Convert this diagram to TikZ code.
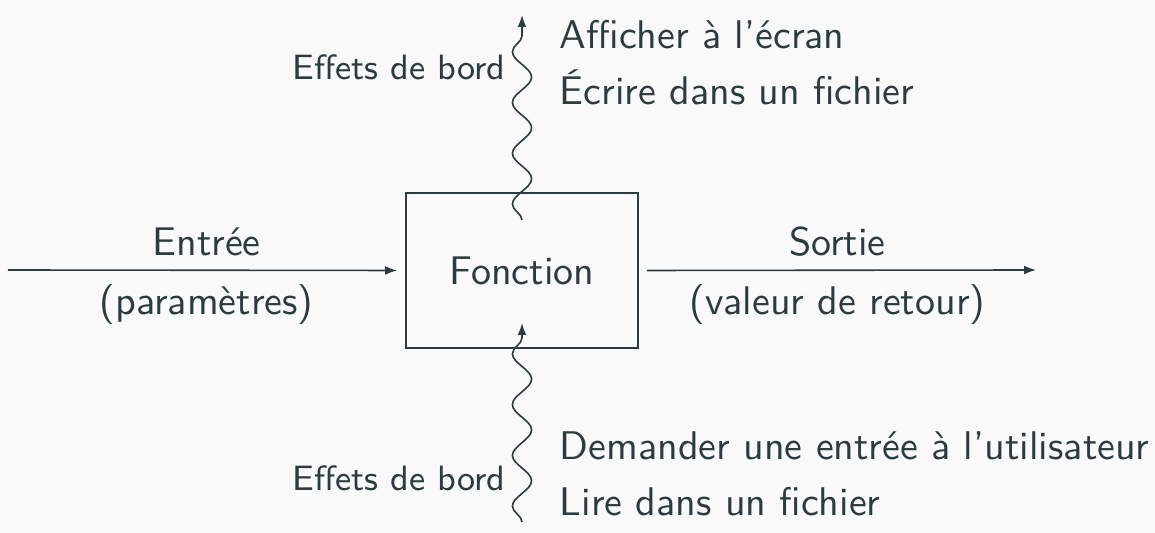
\documentclass[tikz,border=0pt]{standalone}
\usetikzlibrary{decorations.pathmorphing,arrows.meta}
\definecolor{ink}{HTML}{2A3C3F}
\definecolor{bg}{HTML}{F9F9F9}
\begin{document}
\begin{tikzpicture}[x=0.25pt,y=-0.25pt,
  every node/.style={font=\sffamily, text=ink},
  fbox/.style={draw=ink, line width=0.4pt, minimum width=58pt, minimum height=38.75pt, inner sep=0pt},
  flow/.style={draw=ink, line width=0.4pt, -{Latex[length=3pt,width=2.2pt]}},
  wavy/.style={draw=ink, line width=0.4pt, -{Latex[length=3pt,width=2.2pt]}, decorate,
    decoration={snake, amplitude=2.4pt, segment length=12.7pt, post length=1.5pt}},
  side/.style={font=\sffamily\fontsize{8.8}{10}\selectfont},
  note/.style={anchor=base west, inner sep=0pt}]
\fill[bg] (0,0) rectangle (1155,533);
\useasboundingbox (0,0) rectangle (1155,533);

\node[fbox] (box) at (522,270.5) {Fonction};

\coordinate (inL) at (8,270);
\coordinate (outR) at (1036,270);
\draw[flow, shorten >=2pt] (inL) -- node[above] {Entrée} node[below] {(paramètres)} (box.west);
\draw[flow, shorten <=2pt] (box.east) -- node[above] {Sortie} node[below] {(valeur de retour)} (outR);

\coordinate (topStart) at (522,220);
\coordinate (topEnd) at (522,15);
\draw[wavy] (topStart) -- (topEnd);
\node[side, anchor=east, inner sep=0pt] (effTop) at (506,67) {Effets de bord};
\node[note] (aff) at (559,49) {Afficher à l'écran};
\node[note] (ecr) at (559,105) {Écrire dans un fichier};

\coordinate (botStart) at (522,522);
\coordinate (botEnd) at (522,323);
\draw[wavy] (botStart) -- (botEnd);
\node[side, anchor=east, inner sep=0pt] (effBot) at (506,478) {Effets de bord};
\node[note] (dem) at (559,459) {Demander une entrée à l'utilisateur};
\node[note] (lir) at (559,515) {Lire dans un fichier};
\end{tikzpicture}
\end{document}
